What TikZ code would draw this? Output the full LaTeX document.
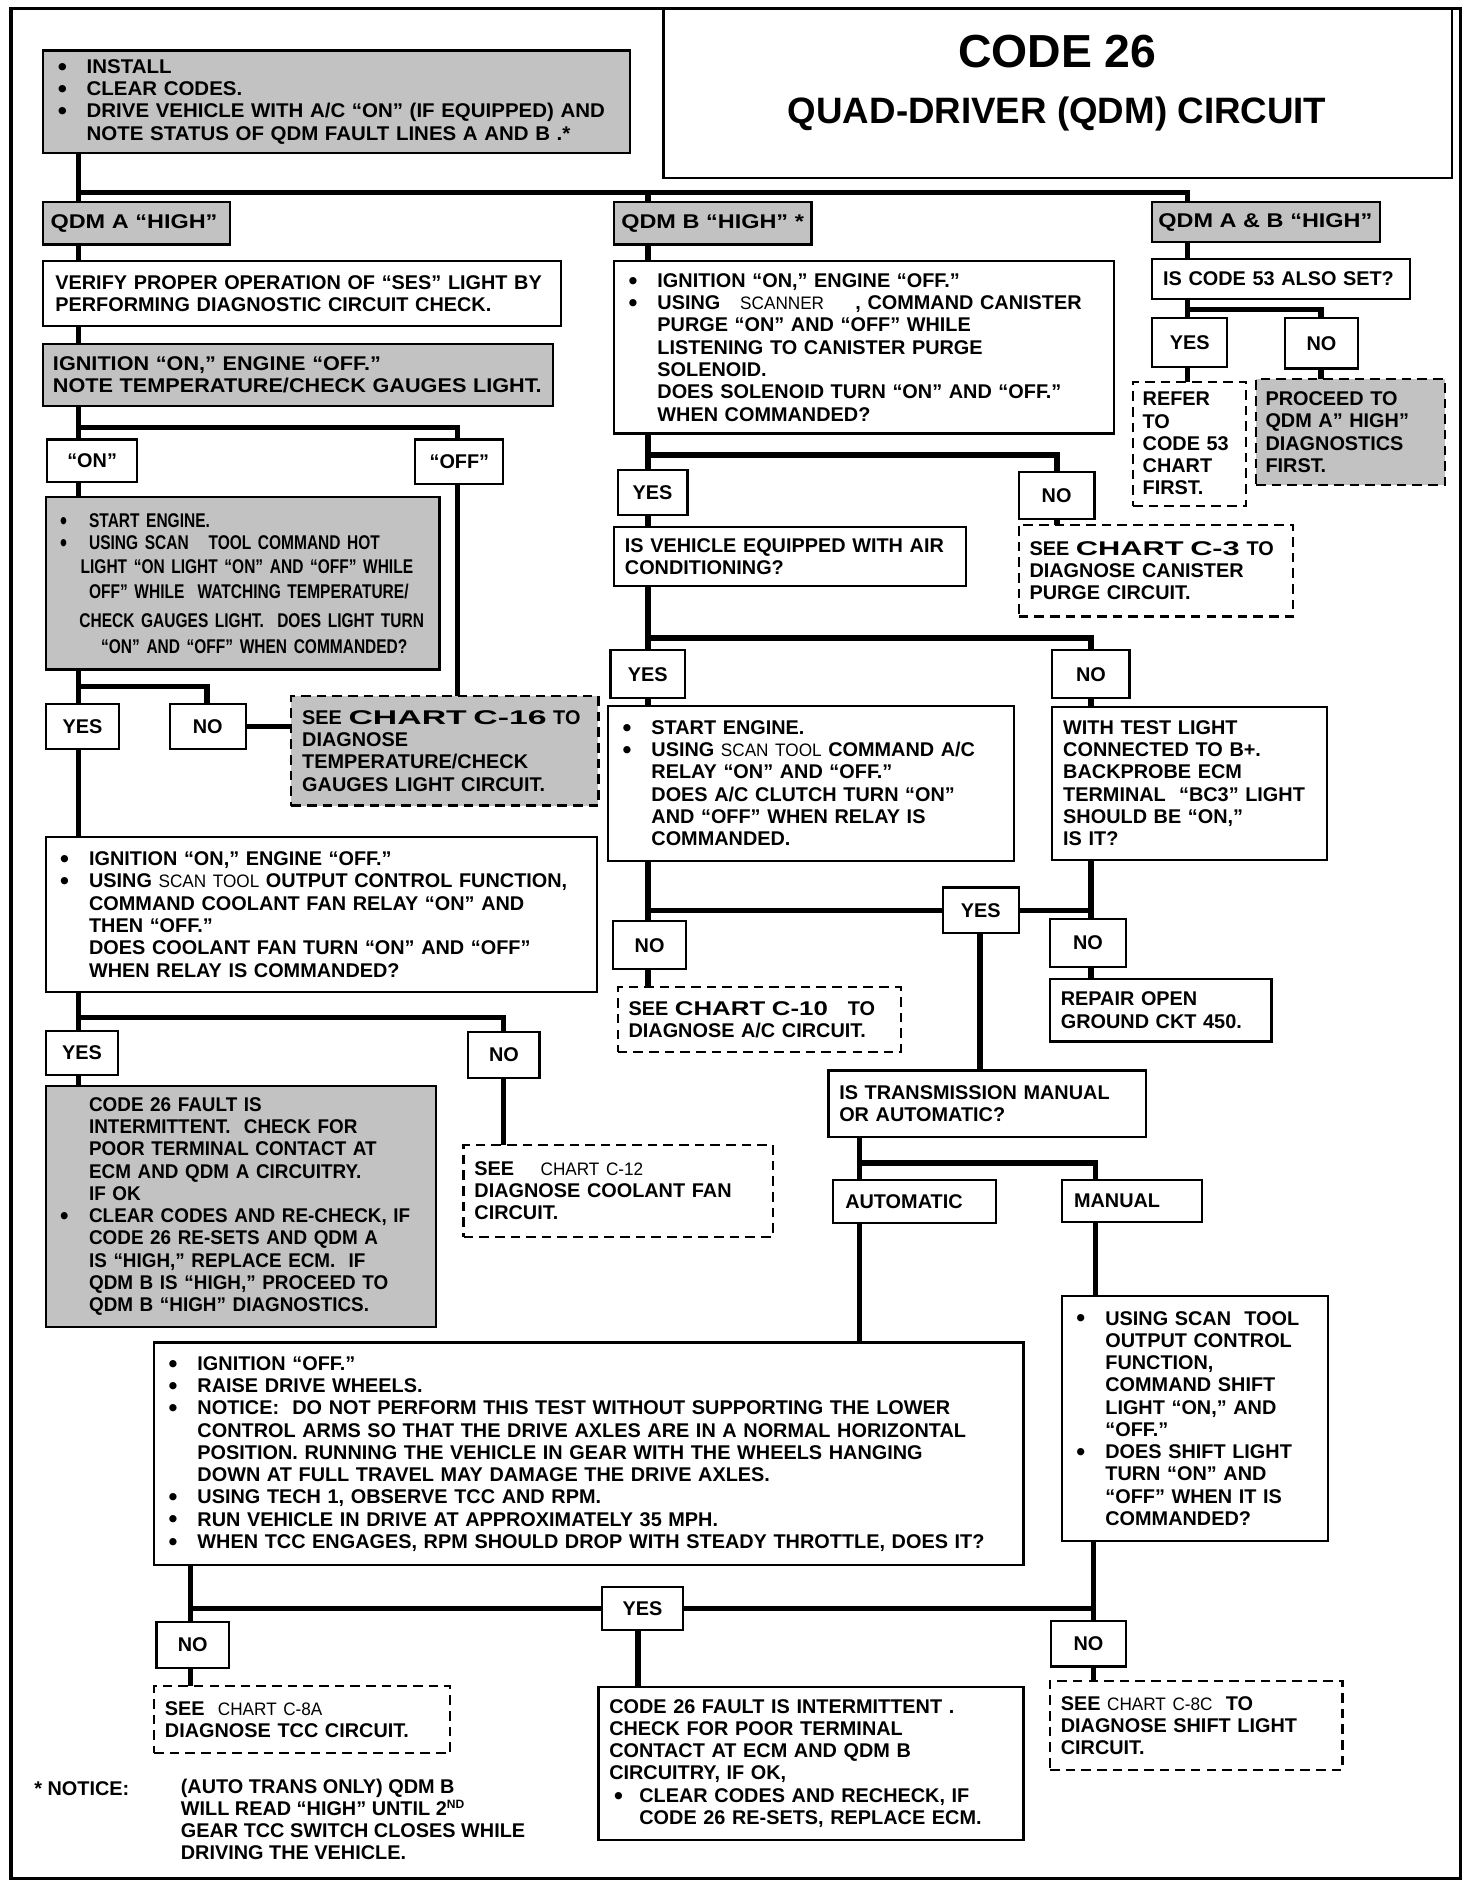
\documentclass[tikz,border=0pt]{standalone}
\usepackage{fontspec}
\usepackage{graphicx}
\setmainfont{Liberation Sans}
\newfontfamily\condf{Liberation Sans}[FakeStretch=0.78]
\newfontfamily\narf{Liberation Sans}[FakeStretch=0.95]
\newfontfamily\wideA{Liberation Sans}[FakeStretch=1.18]
\newfontfamily\wideB{Liberation Sans}[FakeStretch=1.09]
\newfontfamily\wideC{Liberation Sans}[FakeStretch=1.03]
\newfontfamily\widef{Liberation Sans}[FakeStretch=1.3]
\newfontfamily\wideg{Liberation Sans}[FakeStretch=1.55]
\newfontfamily\wideh{Liberation Sans}[FakeStretch=1.7]
\newfontfamily\smf{Liberation Sans}[FakeStretch=0.95]
\newcommand\mf{\fontsize{16.5}{18.5}\selectfont\bfseries}
\newcommand\sm[1]{{\smf\mdseries\fontsize{15}{18.5}\selectfont #1}}
\newcommand\bu{\makebox[24pt][l]{\raisebox{-1.5pt}{\fontsize{21}{18.5}\selectfont •}}}
\newcommand\ind{\hspace*{24pt}}
% #1 style, #2 name, #3 x, #4 y, #5 w, #6 h, #7 padx, #8 text
\newcommand\bx[8]{%
  \pgfmathsetmacro\tw{#5-2*#7}%
  \node[#1, anchor=north west, minimum width=#5pt, minimum height=#6pt,
        inner xsep=#7pt, text width=\tw pt] (#2) at (#3,#4) {#8};}
\newcommand\vl[3]{\draw[conn] (#1,0 |- #2) -- (#1,0 |- #3);}
\tikzset{
  box/.style={draw, line width=1.8pt, fill=white, inner ysep=2pt, outer sep=0pt,
              font=\mf, align=left},
  shade/.style={box, fill=black!24},
  dbox/.style={box, dash pattern=on 8pt off 5pt},
  dshade/.style={shade, dash pattern=on 8pt off 5pt},
  lab/.style={box, align=center},
  conn/.style={line width=4.5pt, line join=miter},
}
\begin{document}
\begin{tikzpicture}[x=1pt,y=-1pt]
\useasboundingbox (0,0) rectangle (1223,1568);
\fill[white] (0,0) rectangle (1223,1568);
\draw[line width=3pt] (9,7) rectangle (1213,1560);

% title
\bx{box}{title}{551}{7}{655}{141}{5}{}
\node[font=\fontsize{38.5}{40}\selectfont\bfseries] (t1) at (878,43) {CODE 26};
\node[font=\fontsize{30.5}{32}\selectfont\bfseries] (t2) at (878,95) {QUAD-DRIVER (QDM) CIRCUIT};

% left column
\bx{shade}{b1}{36}{42}{487}{85}{12}{\wideC\bu INSTALL\\ \bu CLEAR CODES.\\ \bu DRIVE VEHICLE WITH A/C “ON” (IF EQUIPPED) AND\\ \ind NOTE STATUS OF QDM FAULT LINES A AND B .*}
\bx{shade}{qa}{36}{168}{155}{35}{6}{\wideA QDM A “HIGH”}
\bx{box}{verify}{36}{217}{430}{54}{10}{VERIFY PROPER OPERATION OF “SES” LIGHT BY\\ PERFORMING DIAGNOSTIC CIRCUIT CHECK.}
\bx{shade}{ign1}{36}{286}{423}{51}{8}{\wideB IGNITION “ON,” ENGINE “OFF.”\\ NOTE TEMPERATURE/CHECK GAUGES LIGHT.}
\bx{lab}{on}{39}{365}{75}{35}{4}{“ON”}
\bx{lab}{off}{345}{365}{73}{37}{4}{“OFF”}
\bx{shade}{start}{38}{413}{327}{143}{12}{\condf\bu START ENGINE.\\ \bu USING SCAN\ \ \ TOOL COMMAND HOT\\[1pt] \hspace*{17pt}LIGHT “ON LIGHT “ON” AND “OFF” WHILE\\[3pt] \hspace*{24pt}OFF” WHILE\ \ WATCHING TEMPERATURE/\\[5pt] \hspace*{16pt}CHECK GAUGES LIGHT.\ \ DOES LIGHT TURN\\[3pt] \hspace*{34pt}“ON” AND “OFF” WHEN COMMANDED?}
\bx{lab}{yes1}{38}{585}{61}{37}{4}{YES}
\bx{lab}{no1}{141}{585}{63}{37}{4}{NO}
\bx{dshade}{c16}{242}{578}{255}{91}{9}{SEE {\wideh CHART C-16} TO\\ DIAGNOSE\\ TEMPERATURE/CHECK\\ GAUGES LIGHT CIRCUIT.}
\bx{box}{ign2}{38}{695}{458}{129}{12}{\bu IGNITION “ON,” ENGINE “OFF.”\\ \bu USING \sm{SCAN TOOL} OUTPUT CONTROL FUNCTION,\\ \ind COMMAND COOLANT FAN RELAY “ON” AND\\ \ind THEN “OFF.”\\ \ind DOES COOLANT FAN TURN “ON” AND “OFF”\\ \ind WHEN RELAY IS COMMANDED?}
\bx{lab}{yes2}{38}{856}{60}{37}{4}{YES}
\bx{lab}{no2}{389}{857}{59}{38}{4}{NO}
\bx{dbox}{c12}{385}{951}{257}{76}{9}{SEE \quad\sm{CHART C-12}\\ DIAGNOSE COOLANT FAN\\ CIRCUIT.}
\bx{shade}{fault}{38}{902}{324}{200}{12}{\narf\ind CODE 26 FAULT IS\\ \ind INTERMITTENT.\ \ CHECK FOR\\ \ind POOR TERMINAL CONTACT AT\\ \ind ECM AND QDM A CIRCUITRY.\\ \ind IF OK\\ \bu CLEAR CODES AND RE-CHECK, IF\\ \ind CODE 26 RE-SETS AND QDM A\\ \ind IS “HIGH,” REPLACE ECM.\ \ IF\\ \ind QDM B IS “HIGH,” PROCEED TO\\ \ind QDM B “HIGH” DIAGNOSTICS.}

% middle column
\bx{shade}{qb}{510}{168}{164}{35}{3}{\wideA\hspace*{3pt}QDM B “HIGH” *}
\bx{box}{canister}{510}{217}{415}{143}{12}{\bu IGNITION “ON,” ENGINE “OFF.”\\ \bu USING\ \ \ \sm{SCANNER}\hspace{26pt}, COMMAND CANISTER\\ \ind PURGE “ON” AND “OFF” WHILE\\ \ind LISTENING TO CANISTER PURGE\\ \ind SOLENOID.\\ \ind DOES SOLENOID TURN “ON” AND “OFF.”\\ \ind WHEN COMMANDED?}
\bx{lab}{yes3}{513}{390}{58}{38}{4}{YES}
\bx{lab}{no3}{846}{392}{63}{39}{4}{NO}
\bx{box}{aircond}{510}{438}{292}{49}{9}{IS VEHICLE EQUIPPED WITH AIR\\ CONDITIONING?}
\bx{dbox}{c3}{846}{436}{228}{76}{9}{SEE {\wideg CHART C-3} TO\\ DIAGNOSE CANISTER\\ PURGE CIRCUIT.}
\bx{lab}{yes4}{507}{540}{62}{40}{4}{YES}
\bx{lab}{no4}{874}{540}{64}{40}{4}{NO}
\bx{box}{startac}{505}{586}{337}{129}{12}{\bu START ENGINE.\\ \bu USING \sm{SCAN\ TOOL} COMMAND A/C\\ \ind RELAY “ON” AND “OFF.”\\ \ind DOES A/C CLUTCH TURN “ON”\\ \ind AND “OFF” WHEN RELAY IS\\ \ind COMMANDED.}
\bx{box}{testlt}{874}{587}{228}{127}{9}{WITH TEST LIGHT\\ CONNECTED TO B+.\\ BACKPROBE ECM\\ TERMINAL\ \ “BC3” LIGHT\\ SHOULD BE “ON,”\\ IS IT?}
\bx{lab}{yes5}{783}{737}{63}{38}{4}{YES}
\bx{lab}{no5}{509}{765}{61}{40}{4}{NO}
\bx{lab}{no6}{872}{763}{63}{40}{4}{NO}
\bx{dbox}{c10}{513}{820}{235}{54}{9}{SEE {\widef\bfseries CHART C-10}\quad TO\\ DIAGNOSE A/C CIRCUIT.}
\bx{box}{repair}{872}{813}{184}{52}{9}{REPAIR OPEN\\ GROUND CKT 450.}
\bx{box}{trans}{688}{889}{264}{55}{9}{IS TRANSMISSION MANUAL\\ OR AUTOMATIC?}
\bx{box}{auto}{692}{980}{135}{36}{10}{AUTOMATIC}
\bx{box}{manual}{882}{980}{116}{35}{10}{MANUAL}
\bx{box}{tcc}{128}{1115}{722}{185}{12}{\bu IGNITION “OFF.”\\ \bu RAISE DRIVE WHEELS.\\ \bu NOTICE:\ \ DO NOT PERFORM THIS TEST WITHOUT SUPPORTING THE LOWER\\ \ind CONTROL ARMS SO THAT THE DRIVE AXLES ARE IN A NORMAL HORIZONTAL\\ \ind POSITION. RUNNING THE VEHICLE IN GEAR WITH THE WHEELS HANGING\\ \ind DOWN AT FULL TRAVEL MAY DAMAGE THE DRIVE AXLES.\\ \bu USING TECH 1, OBSERVE TCC AND RPM.\\ \bu RUN VEHICLE IN DRIVE AT APPROXIMATELY 35 MPH.\\ \bu WHEN TCC ENGAGES, RPM SHOULD DROP WITH STEADY THROTTLE, DOES IT?}
\bx{box}{shift}{882}{1076}{221}{204}{12}{\bu USING SCAN\ \ TOOL\\ \ind OUTPUT CONTROL\\ \ind FUNCTION,\\ \ind COMMAND SHIFT\\ \ind LIGHT “ON,” AND\\ \ind “OFF.”\\ \bu DOES SHIFT LIGHT\\ \ind TURN “ON” AND\\ \ind “OFF” WHEN IT IS\\ \ind COMMANDED?}
\bx{lab}{yes6}{500}{1318}{67}{36}{4}{YES}
\bx{lab}{no7}{130}{1347}{60}{38}{4}{NO}
\bx{lab}{no8}{873}{1346}{62}{38}{4}{NO}
\bx{dbox}{c8a}{128}{1400}{246}{56}{9}{SEE\ \ \sm{CHART C-8A}\\ DIAGNOSE TCC CIRCUIT.}
\bx{box}{code26b}{497}{1401}{353}{127}{9}{CODE 26 FAULT IS INTERMITTENT .\\ CHECK FOR POOR TERMINAL\\ CONTACT AT ECM AND QDM B\\ CIRCUITRY, IF OK,\\ \hspace*{4pt}\makebox[21pt][l]{\raisebox{-1.5pt}{\fontsize{21}{18.5}\selectfont •}}CLEAR CODES AND RECHECK, IF\\ \hspace*{25pt}CODE 26 RE-SETS, REPLACE ECM.}
\bx{dbox}{c8c}{872}{1396}{243}{74}{9}{SEE \sm{CHART C-8C}\ \ TO\\ DIAGNOSE SHIFT LIGHT\\ CIRCUIT.}

% right column
\bx{shade}{qab}{957}{168}{189}{33}{3}{\wideA\hspace*{2pt}QDM A \& B “HIGH”}
\bx{box}{code53}{957}{215}{214}{33}{9}{IS CODE 53 ALSO SET?}
\bx{lab}{yes7}{957}{264}{62}{41}{4}{YES}
\bx{lab}{no9}{1067}{264}{61}{42}{4}{NO}
\bx{dbox}{refer}{941}{317}{94}{103}{8}{REFER\\ TO\\ CODE 53\\ CHART\\ FIRST.}
\bx{dshade}{proceed}{1043}{315}{157}{88}{8}{PROCEED TO\\ QDM A” HIGH”\\ DIAGNOSTICS\\ FIRST.}

% notice
\node[font=\mf, anchor=base west] (n1) at (25,1491) {* NOTICE:};
\node[font=\mf, anchor=north west, align=left, inner sep=0pt] (n2) at (150,1477) {(AUTO TRANS ONLY) QDM B\\ WILL READ “HIGH” UNTIL 2\raisebox{0.7ex}{\fontsize{10}{10}\selectfont ND}\\ GEAR TCC SWITCH CLOSES WHILE\\ DRIVING THE VEHICLE.};

% connectors
\coordinate (busA) at (986,160);
\draw[conn] (65,0 |- b1.south) |- (busA) -- (busA |- qab.north);
\vl{65}{busA}{qa.north}
\vl{538}{busA}{qb.north}
\vl{65}{qa.south}{verify.north}
\vl{65}{verify.south}{ign1.north}
\coordinate (busB) at (380,355);
\draw[conn] (65,0 |- ign1.south) |- (busB) -- (busB |- off.north);
\vl{65}{busB}{on.north}
\vl{65}{on.south}{start.north}
\vl{380}{off.south}{c16.north}
\coordinate (busC) at (172,570);
\draw[conn] (65,0 |- start.south) |- (busC) -- (busC |- no1.north);
\vl{65}{busC}{yes1.north}
\draw[conn] (no1.east) -- (no1.east -| c16.west);
\vl{65}{yes1.south}{ign2.north}
\coordinate (busD) at (418,845);
\draw[conn] (65,0 |- ign2.south) |- (busD) -- (busD |- no2.north);
\vl{65}{busD}{yes2.north}
\vl{418}{no2.south}{c12.north}
\vl{65}{yes2.south}{fault.north}

\vl{538}{qb.south}{canister.north}
\coordinate (busE) at (878,378);
\draw[conn] (538,0 |- canister.south) |- (busE) -- (busE |- no3.north);
\vl{538}{busE}{yes3.north}
\vl{538}{yes3.south}{aircond.north}
\vl{878}{no3.south}{c3.north}
\coordinate (busF) at (906,530);
\draw[conn] (538,0 |- aircond.south) |- (busF) -- (busF |- no4.north);
\vl{538}{busF}{yes4.north}
\vl{538}{yes4.south}{startac.north}
\vl{906}{no4.south}{testlt.north}
\draw[conn] (538,0 |- startac.south) |- (yes5.west);
\draw[conn] (906,0 |- testlt.south) |- (yes5.east);
\vl{538}{yes5.west}{no5.north}
\vl{906}{yes5.east}{no6.north}
\vl{538}{no5.south}{c10.north}
\vl{906}{no6.south}{repair.north}
\vl{814}{yes5.south}{trans.north}
\coordinate (busG) at (910,966);
\draw[conn] (714,0 |- trans.south) |- (busG) -- (busG |- manual.north);
\vl{714}{busG}{auto.north}
\vl{714}{auto.south}{tcc.north}
\vl{910}{manual.south}{shift.north}
\draw[conn] (158,0 |- tcc.south) |- (yes6.west);
\draw[conn] (908,0 |- shift.south) |- (yes6.east);
\vl{158}{yes6.west}{no7.north}
\vl{908}{yes6.east}{no8.north}
\vl{530}{yes6.south}{code26b.north}
\vl{158}{no7.south}{c8a.north}
\vl{908}{no8.south}{c8c.north}

\vl{986}{qab.south}{code53.north}
\coordinate (busH) at (1097,257);
\draw[conn] (986,0 |- code53.south) |- (busH) -- (busH |- no9.north);
\vl{986}{busH}{yes7.north}
\vl{986}{yes7.south}{refer.north}
\vl{1097}{no9.south}{proceed.north}
\end{tikzpicture}
\end{document}
